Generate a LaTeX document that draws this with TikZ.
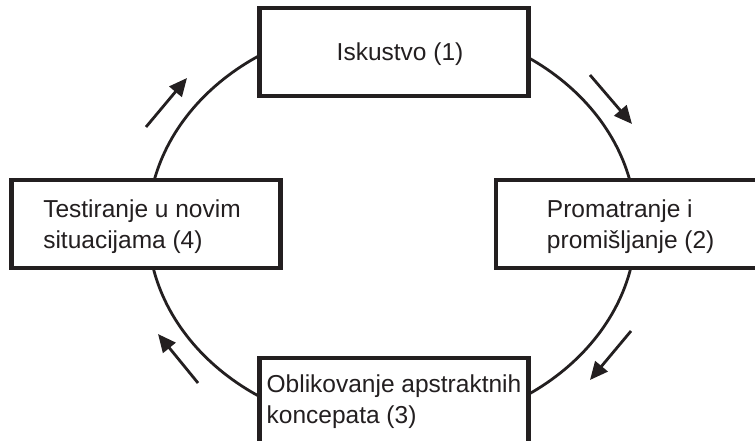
\documentclass[tikz,border=0pt]{standalone}
\usepackage{fontspec}
\setmainfont{Liberation Sans}
\usetikzlibrary{arrows.meta}
\definecolor{ink}{HTML}{231F20}
\begin{document}
\begin{tikzpicture}[x=1pt,y=-1pt,
  box/.style={draw=ink, line width=4.2pt, fill=white, minimum width=269pt,
    minimum height=88pt, inner sep=0pt, align=left,
    font=\fontsize{24.5}{31}\selectfont, text=ink},
  cyclecurve/.style={draw=ink, line width=2.8pt},
  flowarrow/.style={draw=ink, line width=2.8pt, -{Triangle[length=18pt,width=16pt]}}]
\useasboundingbox[fill=white] (0,0) rectangle (755,441);
% cycle
\draw[cyclecurve] (392,226) ellipse [x radius=244pt, y radius=203pt];
% arrows
\coordinate (a1s) at (146,127); \coordinate (a1e) at (187,78);
\coordinate (a2s) at (590,75);  \coordinate (a2e) at (632,124);
\coordinate (a3s) at (631,331); \coordinate (a3e) at (590,380);
\coordinate (a4s) at (198,383); \coordinate (a4e) at (158,334);
\draw[flowarrow] (a1s) -- (a1e);
\draw[flowarrow] (a2s) -- (a2e);
\draw[flowarrow] (a3s) -- (a3e);
\draw[flowarrow] (a4s) -- (a4e);
% boxes
\node[box] (b1) at (394,52) {\hspace*{12pt}\rule{0pt}{23pt}Iskustvo (1)};
\node[box] (b2) at (630.7,224) {\rule{0pt}{24pt}Promatranje i\\promišljanje (2)};
\node[box] (b3) at (394,402) {Oblikovanje apstraktnih\\koncepata (3)};
\node[box] (b4) at (146,223.7) {\rule{0pt}{24pt}Testiranje u novim\hspace*{8pt}\\situacijama (4)};
\end{tikzpicture}
\end{document}
